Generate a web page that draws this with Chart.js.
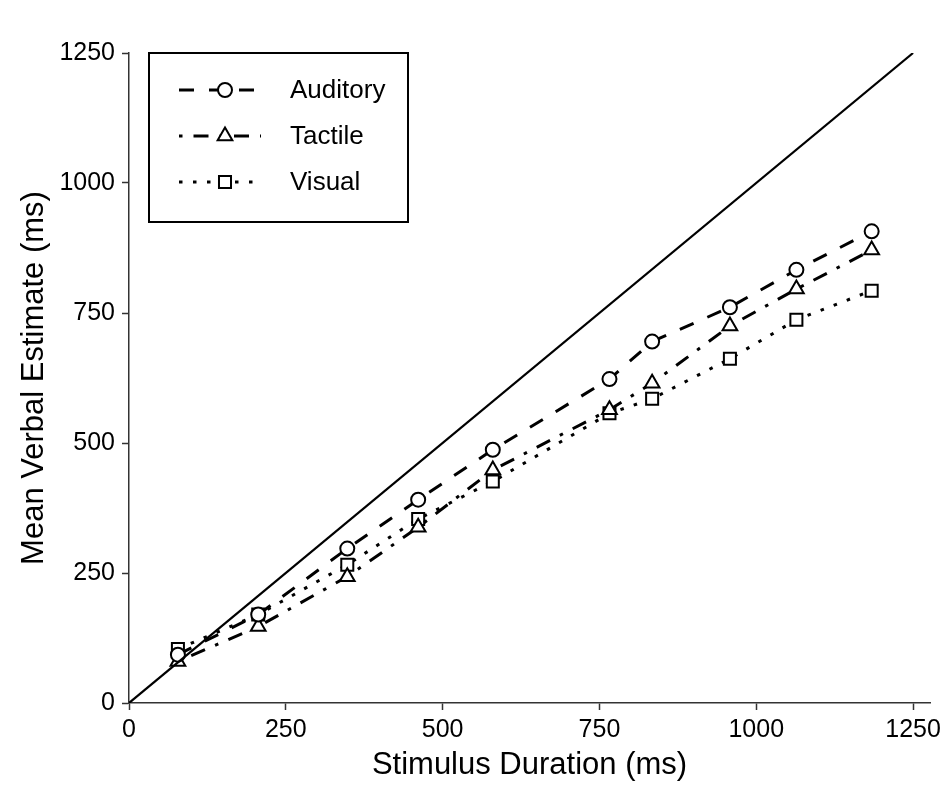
<!DOCTYPE html>
<html>
<head>
<meta charset="utf-8">
<script src="https://cdn.jsdelivr.net/npm/chart.js@4/dist/chart.umd.min.js"></script>
<style>
  html, body { margin: 0; padding: 0; background: #fff; }
  #wrap { width: 949px; height: 792px; position: relative; }
</style>
</head>
<body>
<div id="wrap"><canvas id="chart"></canvas></div>
<script>
// stimulus durations (ms) and mean verbal estimates (ms)
const durations = [78, 206, 348, 461, 580, 766, 834, 958, 1064, 1184];
const auditory = [93, 170, 297, 391, 487, 623, 695, 761, 833, 907];
const tactile = [80, 147, 243, 338, 448, 564, 615, 725, 796, 871];
const visual = [104, 170, 266, 354, 426, 557, 585, 662, 737, 793];
const identityLine = [0, 1250];
const tickValues = [0, 250, 500, 750, 1000, 1250];

const FONT = '"Liberation Sans", Arial, Helvetica, sans-serif';

function toPoints(ys) {
  return durations.map((d, i) => ({ x: d, y: ys[i] }));
}

function seriesStyle(label, values, dash, pointStyle, radius) {
  return {
    label: label,
    data: toPoints(values),
    borderColor: '#000',
    borderWidth: 3,
    borderDash: dash,
    fill: false,
    tension: 0,
    pointStyle: pointStyle,
    pointRadius: radius,
    pointHoverRadius: radius,
    pointBorderWidth: 2,
    pointBorderColor: '#000',
    pointBackgroundColor: '#fff'
  };
}

// legend drawn by hand so line samples keep their dash pattern and marker
const boxLegend = {
  id: 'boxLegend',
  afterDraw(chart) {
    const ctx = chart.ctx;
    const area = chart.chartArea;
    const left = area.left + 20;
    const top = area.top;
    ctx.save();
    ctx.strokeStyle = '#000';
    ctx.lineWidth = 2;
    ctx.setLineDash([]);
    ctx.strokeRect(left, top, 259, 169);

    chart.data.datasets.forEach((ds, i) => {
      if (!ds.pointStyle) return;
      const y = top + 37 + (i - 1) * 46;
      ctx.save();
      ctx.strokeStyle = '#000';
      ctx.lineWidth = ds.borderWidth;
      ctx.setLineDash(ds.borderDash);
      ctx.beginPath();
      ctx.moveTo(left + 30, y);
      ctx.lineTo(left + 112, y);
      ctx.stroke();
      ctx.restore();

      ctx.save();
      ctx.setLineDash([]);
      ctx.fillStyle = '#fff';
      ctx.strokeStyle = '#000';
      ctx.lineWidth = ds.pointBorderWidth;
      Chart.helpers.drawPoint(ctx, {
        pointStyle: ds.pointStyle,
        radius: ds.pointRadius,
        borderWidth: ds.pointBorderWidth,
        rotation: 0
      }, left + 76, y);
      ctx.restore();

      ctx.fillStyle = '#000';
      ctx.font = '26px ' + FONT;
      ctx.textAlign = 'left';
      ctx.textBaseline = 'middle';
      ctx.fillText(ds.label, left + 141, y + 1);
    });
    ctx.restore();
  }
};

function axisCommon() {
  return {
    grid: {
      drawOnChartArea: false,
      drawTicks: true,
      tickLength: 7,
      tickWidth: 1.5,
      tickColor: '#333'
    },
    border: { display: true, color: '#333', width: 1.5 }
  };
}

new Chart(document.getElementById('chart'), {
  type: 'line',
  data: {
    datasets: [
      {
        label: 'identity',
        data: identityLine.map(v => ({ x: v, y: v })),
        borderColor: '#000',
        borderWidth: 2.2,
        pointRadius: 0,
        pointHoverRadius: 0,
        fill: false
      },
      seriesStyle('Auditory', auditory, [15, 15], 'circle', 7),
      seriesStyle('Tactile', tactile, [3.5, 11, 15, 11], 'triangle', 8.5),
      seriesStyle('Visual', visual, [3.5, 10.5], 'rect', 8.5)
    ]
  },
  options: {
    responsive: true,
    maintainAspectRatio: false,
    animation: false,
    events: [],
    layout: { padding: { left: 0, right: 19, top: 53, bottom: 0 } },
    plugins: {
      legend: { display: false },
      tooltip: { enabled: false }
    },
    scales: {
      x: {
        ...axisCommon(),
        type: 'linear',
        min: 0,
        max: 1277,
        afterBuildTicks(scale) {
          scale.ticks = tickValues.map(v => ({ value: v }));
        },
        afterFit(scale) {
          scale.height = 89;
          scale.paddingLeft = 0;
          scale.paddingRight = 0;
        },
        ticks: {
          color: '#000',
          padding: 5,
          maxRotation: 0,
          callback: v => String(v),
          font: { family: FONT, size: 25 }
        },
        title: {
          display: true,
          text: 'Stimulus Duration (ms)',
          color: '#000',
          padding: { top: 0, bottom: 8 },
          font: { family: FONT, size: 31 }
        }
      },
      y: {
        ...axisCommon(),
        type: 'linear',
        min: 0,
        max: 1250,
        afterBuildTicks(scale) {
          scale.ticks = tickValues.map(v => ({ value: v }));
        },
        afterFit(scale) {
          scale.width = 129;
          scale.paddingTop = 0;
          scale.paddingBottom = 0;
        },
        ticks: {
          color: '#000',
          padding: 7,
          callback: v => String(v),
          font: { family: FONT, size: 25 }
        },
        title: {
          display: true,
          text: 'Mean Verbal Estimate (ms)',
          color: '#000',
          padding: { top: 16, bottom: 0 },
          font: { family: FONT, size: 31 }
        }
      }
    }
  },
  plugins: [boxLegend]
});
</script>
</body>
</html>
